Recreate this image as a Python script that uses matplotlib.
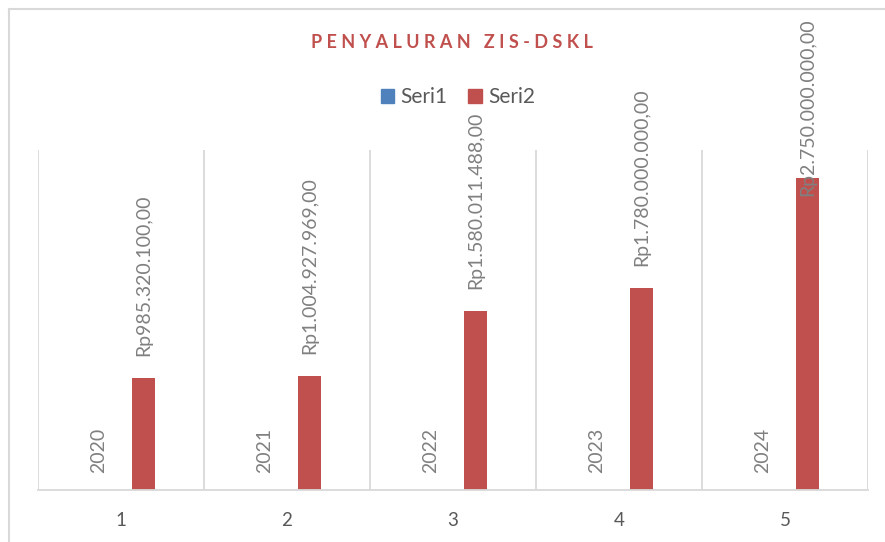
import numpy as np
import matplotlib
matplotlib.use("Agg")
import matplotlib.pyplot as plt
from matplotlib.lines import Line2D
from matplotlib.patches import Patch

# data
categories = [1, 2, 3, 4, 5]
seri1 = [2020, 2021, 2022, 2023, 2024]
seri2 = [985320100.00, 1004927969.00, 1580011488.00, 1780000000.00, 2750000000.00]
seri2_labels = ["Rp985.320.100,00", "Rp1.004.927.969,00", "Rp1.580.011.488,00",
                "Rp1.780.000.000,00", "Rp2.750.000.000,00"]
title = "PENYALURAN ZIS-DSKL"

BLUE = "#4F81BD"
RED = "#C0504D"
GRID = "#D9D9D9"
LABEL = "#808080"
TEXT = "#595959"

plt.rcParams['font.family'] = ['Lato', 'DejaVu Sans']

W, H = 885, 542
fig = plt.figure(figsize=(W / 100, H / 100), dpi=100)
ax = fig.add_axes([38 / W, 1 - 490 / H, (868 - 38) / W, (490 - 150) / H])

x = np.array(categories)
w = 0.136
ax.bar(x - w, seri1, width=w, color=BLUE)
ax.bar(x + w, seri2, width=w, color=RED)

ax.set_xlim(0.5, 5.5)
ax.set_ylim(0, 3e9)

# vertical gridlines between categories
for b in np.arange(0.5, 6.0, 1.0):
    ax.axvline(b, color=GRID, lw=1.3, zorder=0)

for s in ["top", "right", "left"]:
    ax.spines[s].set_visible(False)
ax.spines["bottom"].set_color(GRID)
ax.spines["bottom"].set_linewidth(1.3)
ax.set_yticks([])
ax.set_xticks(x)
ax.set_xticklabels([str(c) for c in categories], fontsize=13.5, color=TEXT)
ax.tick_params(axis="x", length=0, pad=16)

# data labels
labels = []
for xi, v in zip(x, seri1):
    ax.annotate(str(v), (xi - w, v), xytext=(0, 17), textcoords="offset pixels",
                rotation=90, ha="center", va="bottom", fontsize=14, color=LABEL)
for xi, v, t in zip(x, seri2, seri2_labels):
    a = ax.annotate(t, (xi + w, v), xytext=(0, 22), textcoords="offset pixels",
                    rotation=90, ha="center", va="bottom", fontsize=14, color=LABEL,
                    annotation_clip=False)
    labels.append(a)

# keep labels inside the chart area like Excel does
fig.canvas.draw()
r = fig.canvas.get_renderer()
for a in labels:
    bb = a.get_window_extent(r)
    limit = H - 18
    if bb.y1 > limit:
        ox, oy = a.xyann
        a.xyann = (ox, oy - (bb.y1 - limit))

fig.text(452 / W, 1 - 43 / H, " ".join(title), ha="center", va="center",
         fontsize=13, fontweight="bold", color=RED)

handles = [Patch(color=BLUE, label="Seri1"), Patch(color=RED, label="Seri2")]
fig.legend(handles=handles, loc="center", bbox_to_anchor=(458 / W, 1 - 97 / H), ncol=2,
           frameon=False, fontsize=15, labelcolor=TEXT, handlelength=0.65, handleheight=0.65,
           handletextpad=0.3, columnspacing=1.0)

# chart border (left and top edges visible)
fig.add_artist(Line2D([9 / W, 9 / W], [0, 1 - 9 / H], color=GRID, lw=1.5))
fig.add_artist(Line2D([9 / W, 1], [1 - 9 / H, 1 - 9 / H], color=GRID, lw=1.5))

fig.savefig("out.png", dpi=100)
